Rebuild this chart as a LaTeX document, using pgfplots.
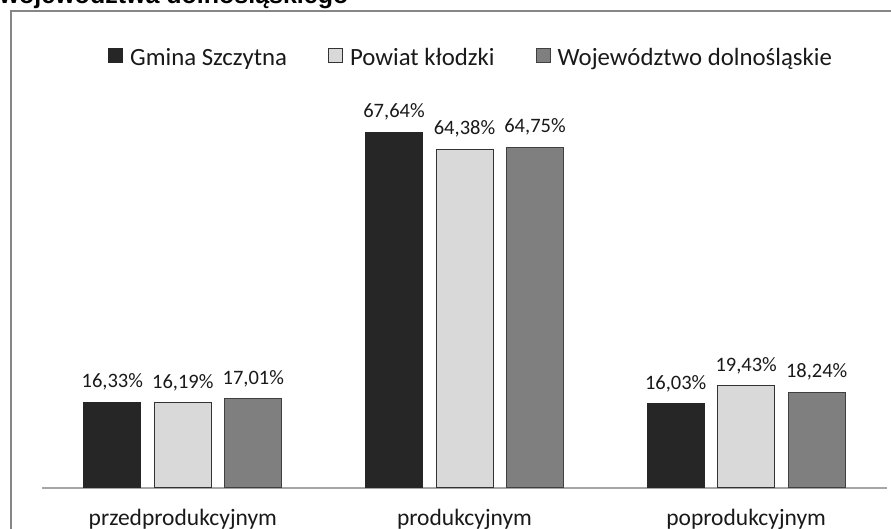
\documentclass[border=0pt]{standalone}
\usepackage{fontspec}
\setmainfont{Carlito}
\newfontfamily\titlefont{Liberation Sans}
\usepackage{pgfplots}
\pgfplotsset{compat=1.18}

\definecolor{barA}{HTML}{262626}
\definecolor{barB}{HTML}{D9D9D9}
\definecolor{barC}{HTML}{7F7F7F}
\definecolor{framegray}{HTML}{868686}
\definecolor{axisgray}{HTML}{A6A6A6}

\begin{document}
\begin{tikzpicture}[x=1pt,y=1pt]
\useasboundingbox (0,0) rectangle (891,529);
\clip (0,0) rectangle (891,529);
% title, cut at the top as in the source
\node[anchor=base west, inner sep=0pt,
  font=\titlefont\bfseries\fontsize{25pt}{28pt}\selectfont] at (-0.5,525) {województwa dolnośląskiego};
\draw[framegray, line width=2pt] (11,-5) -- (11,518) -- (900,518);
\begin{axis}[
    at={(42pt,41pt)}, anchor=south west,
    width=845pt, height=420.8pt, scale only axis,
    ybar=13.5pt, bar width=57pt,
    xmin=-0.5, xmax=2.5, ymin=0, ymax=80,
    axis y line=none, axis x line*=bottom,
    x axis line style={axisgray, line width=1.5pt},
    xtick={0,1,2},
    xticklabels={przedprodukcyjnym, produkcyjnym, poprodukcyjnym},
    major tick length=0pt,
    x tick label style={font=\fontsize{23.5pt}{28pt}\selectfont, anchor=base, yshift=-38pt, text=black!90},
    nodes near coords={\pgfmathprintnumber[fixed,fixed zerofill,precision=2,use comma,assume math mode=true]{\pgfplotspointmeta}\%},
    every node near coord/.append style={font=\fontsize{20.5pt}{24pt}\selectfont, anchor=south,
      text depth=0pt, inner sep=0pt, yshift=14pt, text=black!90},
    legend columns=3,
    legend image code/.code={\draw[#1, line width=1pt] (0pt,-4.4pt) rectangle (14pt,9.6pt);},
    legend style={at={(0.0781,1.0235)}, anchor=west, draw=none, fill=none, inner sep=0pt,
      font=\fontsize{24.8pt}{29pt}\selectfont, text=black!90,
      nodes={inner sep=0pt},
      /tikz/every odd column/.append style={column sep=7pt},
      /tikz/every even column/.append style={column sep=41pt}},
  ]
  \addplot[draw=black!85, fill=barA, line width=1pt] coordinates {(0,16.33) (1,67.64) (2,16.03)};
  \addplot[draw=black!80, fill=barB, line width=1pt] coordinates {(0,16.19) (1,64.38) (2,19.43)};
  \addplot[draw=black!75, fill=barC, line width=1pt] coordinates {(0,17.01) (1,64.75) (2,18.24)};
  \legend{Gmina Szczytna, Powiat kłodzki, Województwo dolnośląskie}
\end{axis}
\end{tikzpicture}
\end{document}
